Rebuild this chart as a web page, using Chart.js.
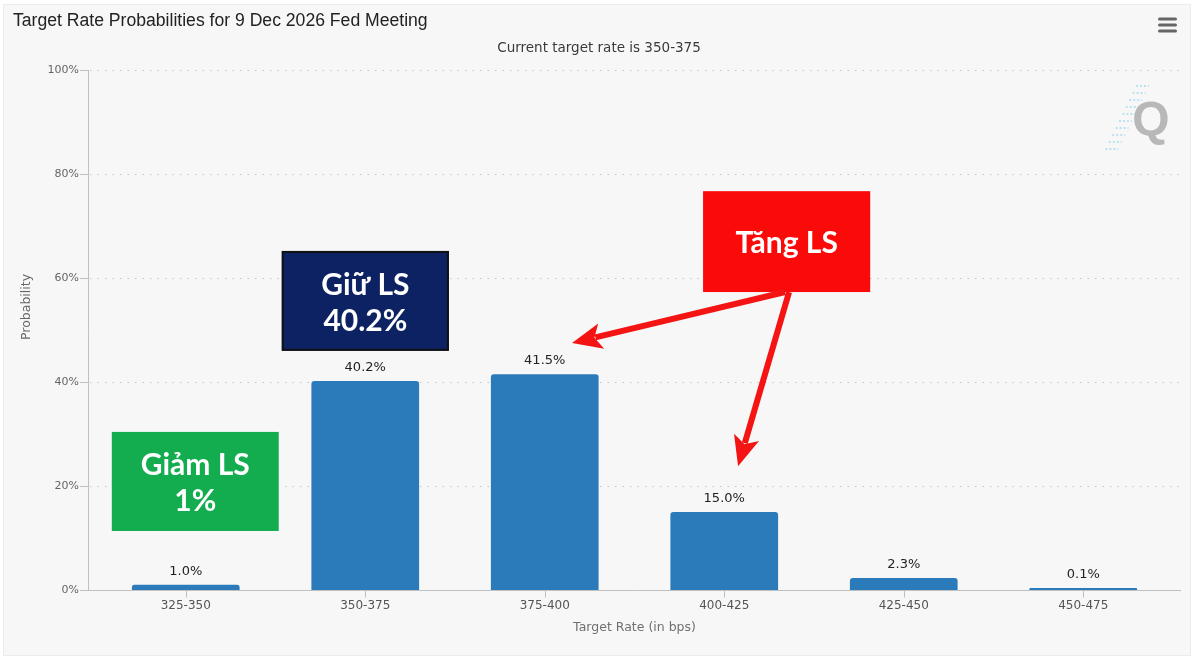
<!DOCTYPE html>
<html>
<head>
<meta charset="utf-8">
<script src="https://cdn.jsdelivr.net/npm/chart.js@4"></script>
<style>
  html, body { margin: 0; padding: 0; background: #ffffff; }
  #wrap { width: 1200px; height: 663px; position: relative; }
</style>
</head>
<body>
<div id="wrap"><canvas id="c" width="1200" height="663"></canvas></div>
<script>
// ---- Data ----
const categories = ['325-350', '350-375', '375-400', '400-425', '425-450', '450-475'];
const probabilities = [1.0, 40.2, 41.5, 15.0, 2.3, 0.1];
const yTickValues = [0, 20, 40, 60, 80, 100];
const chartTitle = 'Target Rate Probabilities for 9 Dec 2026 Fed Meeting';
const chartSubtitle = 'Current target rate is 350-375';
const xAxisTitle = 'Target Rate (in bps)';
const yAxisTitle = 'Probability';

// Annotation callouts (positions in data units: x = category index, y = probability %)
const callouts = [
  { lines: ['Giảm LS', '1%'], x0: -0.412, x1: 0.518, y0: 30.4, y1: 11.35, fill: '#13ad4f', stroke: null },
  { lines: ['Giữ LS', '40.2%'], x0: 0.535, x1: 1.466, y0: 65.2, y1: 46.0, fill: '#0c2262', stroke: '#111111' },
  { lines: ['Tăng LS'], x0: 2.882, x1: 3.813, y0: 76.7, y1: 57.3, fill: '#fb0a0a', stroke: null }
];
const arrows = [
  { fx: 3.339, fy: 57.3, tx: 2.152, ty: 47.5 },
  { fx: 3.361, fy: 57.3, tx: 3.077, ty: 23.8 }
];

const TICK_FONT = 'DejaVu Sans';

const decorPlugin = {
  id: 'decor',
  beforeDraw(chart) {
    const { ctx, chartArea: a, scales: { x, y } } = chart;
    ctx.save();
    // page + card background
    ctx.fillStyle = '#ffffff';
    ctx.fillRect(0, 0, chart.width, chart.height);
    ctx.fillStyle = '#f7f7f7';
    ctx.fillRect(3, 4, 1188, 652);
    ctx.strokeStyle = '#ececec';
    ctx.lineWidth = 1;
    ctx.strokeRect(3.5, 4.5, 1187, 651);

    const left = a.left - 8, right = a.right + 8;
    // dotted gridlines
    ctx.strokeStyle = '#c4c4c4';
    ctx.lineWidth = 1;
    ctx.setLineDash([1.5, 6]);
    yTickValues.forEach(v => {
      if (v === 0) return;
      const py = Math.round(y.getPixelForValue(v)) + 0.5;
      ctx.beginPath(); ctx.moveTo(left + 2, py); ctx.lineTo(right, py); ctx.stroke();
    });
    ctx.setLineDash([]);
    // axis lines
    ctx.strokeStyle = '#c0c0c0';
    const by = Math.round(y.getPixelForValue(0)) + 0.5;
    const ty = Math.round(y.getPixelForValue(100));
    ctx.beginPath(); ctx.moveTo(left + 0.5, ty); ctx.lineTo(left + 0.5, by); ctx.stroke();
    ctx.beginPath(); ctx.moveTo(left, by); ctx.lineTo(right, by); ctx.stroke();
    // y tick marks
    yTickValues.forEach(v => {
      const py = Math.round(y.getPixelForValue(v)) + 0.5;
      ctx.beginPath(); ctx.moveTo(left - 8, py); ctx.lineTo(left, py); ctx.stroke();
    });
    // x tick marks at category centres
    categories.forEach((c, i) => {
      const px = Math.round(x.getPixelForValue(i)) + 0.5;
      ctx.beginPath(); ctx.moveTo(px, by); ctx.lineTo(px, by + 7); ctx.stroke();
    });

    // watermark
    ctx.strokeStyle = '#a9dcef';
    ctx.lineWidth = 1.5;
    ctx.setLineDash([2, 2]);
    for (let k = 0; k < 10; k++) {
      const cx = 1146 - k * 3.4, cy = 86 + k * 7;
      ctx.beginPath(); ctx.moveTo(cx - 10, cy); ctx.lineTo(cx + 3, cy); ctx.stroke();
    }
    ctx.setLineDash([]);
    ctx.fillStyle = '#b8b8b8';
    ctx.font = 'bold 48px "Liberation Sans", Arial, sans-serif';
    ctx.textAlign = 'center';
    ctx.textBaseline = 'middle';
    ctx.fillText('Q', 1151, 122);

    // hamburger
    ctx.fillStyle = '#666666';
    [19, 25, 31].forEach(yy => {
      ctx.beginPath();
      ctx.roundRect(1158, yy - 1.5, 19, 3, 1.5);
      ctx.fill();
    });

    // title + subtitle
    ctx.fillStyle = '#222222';
    ctx.font = '17.6px "Liberation Sans", Arial, sans-serif';
    ctx.textAlign = 'left';
    ctx.textBaseline = 'middle';
    ctx.fillText(chartTitle, 13, 21);
    ctx.fillStyle = '#3a3a3a';
    ctx.font = '13.5px "' + TICK_FONT + '", sans-serif';
    ctx.textAlign = 'center';
    ctx.fillText(chartSubtitle, 599, 48);

    // y axis title
    ctx.save();
    ctx.translate(27, 307);
    ctx.rotate(-Math.PI / 2);
    ctx.fillStyle = '#666666';
    ctx.font = '12.5px "' + TICK_FONT + '", sans-serif';
    ctx.textAlign = 'center';
    ctx.textBaseline = 'middle';
    ctx.fillText(yAxisTitle, 0, 0);
    ctx.restore();
    ctx.restore();
  },
  afterDatasetsDraw(chart) {
    const { ctx, scales: { x, y } } = chart;
    const meta = chart.getDatasetMeta(0);
    ctx.save();
    // value labels
    ctx.fillStyle = '#222222';
    ctx.font = '13px "' + TICK_FONT + '", sans-serif';
    ctx.textAlign = 'center';
    ctx.textBaseline = 'bottom';
    meta.data.forEach((bar, i) => {
      ctx.fillText(probabilities[i].toFixed(1) + '%', bar.x, bar.y - 7);
    });

    // callout boxes
    callouts.forEach(c => {
      const l = x.getPixelForValue(c.x0), r = x.getPixelForValue(c.x1);
      const t = y.getPixelForValue(c.y0), b = y.getPixelForValue(c.y1);
      ctx.fillStyle = c.fill;
      ctx.fillRect(l, t, r - l, b - t);
      if (c.stroke) {
        ctx.strokeStyle = c.stroke; ctx.lineWidth = 2;
        ctx.strokeRect(l + 1, t + 1, r - l - 2, b - t - 2);
      }
      ctx.fillStyle = '#ffffff';
      ctx.font = 'bold 30px Lato, "Open Sans", sans-serif';
      ctx.textAlign = 'center';
      ctx.textBaseline = 'middle';
      const cx = (l + r) / 2, cy = (t + b) / 2 + 2;
      const lh = 36;
      const n = c.lines.length;
      c.lines.forEach((s, k) => {
        ctx.fillText(s, cx, cy + (k - (n - 1) / 2) * lh);
      });
    });

    // arrows
    arrows.forEach(a => {
      const fx = x.getPixelForValue(a.fx), fy = y.getPixelForValue(a.fy);
      const tx = x.getPixelForValue(a.tx), ty = y.getPixelForValue(a.ty);
      const ang = Math.atan2(ty - fy, tx - fx);
      const headLen = 30, headW = 13;
      const bx = tx - headLen * Math.cos(ang), byy = ty - headLen * Math.sin(ang);
      ctx.strokeStyle = '#f41414';
      ctx.fillStyle = '#f41414';
      ctx.lineWidth = 6;
      ctx.lineCap = 'butt';
      ctx.beginPath(); ctx.moveTo(fx, fy); ctx.lineTo(bx + 6 * Math.cos(ang), byy + 6 * Math.sin(ang)); ctx.stroke();
      ctx.beginPath();
      ctx.moveTo(tx, ty);
      ctx.lineTo(bx + headW * Math.sin(ang), byy - headW * Math.cos(ang));
      ctx.lineTo(bx + 7 * Math.cos(ang), byy + 7 * Math.sin(ang));
      ctx.lineTo(bx - headW * Math.sin(ang), byy + headW * Math.cos(ang));
      ctx.closePath();
      ctx.fill();
    });
    ctx.restore();
  }
};

new Chart(document.getElementById('c'), {
  type: 'bar',
  data: {
    labels: categories,
    datasets: [{
      data: probabilities,
      backgroundColor: '#2b7bba',
      borderRadius: 3,
      borderSkipped: 'start',
      barPercentage: 0.6,
      categoryPercentage: 1.0,
      minBarLength: 2
    }]
  },
  options: {
    responsive: false,
    animation: false,
    devicePixelRatio: 1,
    layout: { padding: { top: 70, right: 27, bottom: 0, left: 0 } },
    plugins: { legend: { display: false }, tooltip: { enabled: false }, title: { display: false } },
    scales: {
      x: {
        grid: { display: false, drawTicks: false },
        border: { display: false },
        ticks: { color: '#555555', font: { family: TICK_FONT, size: 12 }, padding: 9, maxRotation: 0 },
        title: { display: true, text: xAxisTitle, color: '#707070', font: { family: TICK_FONT, size: 12.5 }, padding: { top: 0, bottom: 28 } },
        afterFit(s) { s.height = 73; }
      },
      y: {
        min: 0, max: 100,
        afterBuildTicks(s) { s.ticks = yTickValues.map(v => ({ value: v })); },
        grid: { display: false, drawTicks: false },
        border: { display: false },
        ticks: { color: '#666666', font: { family: TICK_FONT, size: 11 }, padding: 17, callback: v => v + '%' },
        title: { display: false },
        afterFit(s) { s.width = 96; }
      }
    }
  },
  plugins: [decorPlugin]
});
</script>
</body>
</html>
